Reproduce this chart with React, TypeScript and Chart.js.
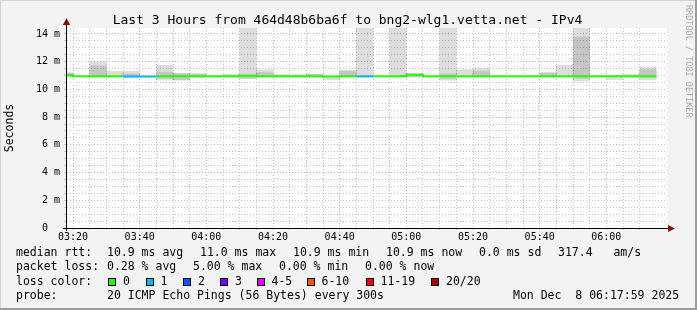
import React, { useEffect, useRef } from "react";
import { Chart, registerables } from "chart.js";

Chart.register(...registerables);

// ---- data ----
const slotStart = [
  "03:15", "03:20", "03:25", "03:30", "03:35", "03:40", "03:45", "03:50", "03:55",
  "04:00", "04:05", "04:10", "04:15", "04:20", "04:25", "04:30", "04:35", "04:40",
  "04:45", "04:50", "04:55", "05:00", "05:05", "05:10", "05:15", "05:20", "05:25",
  "05:30", "05:35", "05:40", "05:45", "05:50", "05:55", "06:00", "06:05", "06:10",
];
const medianMs = [
  11.02, 10.94, 10.95, 10.94, 10.93, 10.93, 10.94, 10.94, 10.95,
  10.94, 10.94, 10.98, 10.95, 10.94, 10.94, 10.94, 10.93, 10.95,
  10.94, 10.94, 10.94, 11.04, 10.94, 10.95, 10.94, 10.94, 10.94,
  10.94, 10.94, 10.95, 10.94, 10.94, 10.94, 10.94, 10.94, 10.94,
];
const lossCount = [
  0, 0, 0, 0, 1, 1, 0, 0, 0,
  0, 0, 0, 0, 0, 0, 0, 0, 0,
  1, 0, 0, 0, 0, 0, 0, 0, 0,
  0, 0, 0, 0, 0, 0, 0, 0, 0,
];
const smokeLow: (number | null)[] = [
  10.92, null, 10.88, 10.88, 10.88, null, 10.68, 10.66, 10.88,
  null, 10.88, 10.78, 10.88, 10.88, 10.88, 10.88, 10.7, 10.88,
  10.88, null, 10.88, 10.88, null, 10.66, 10.88, 10.88, null,
  null, null, 10.88, 10.88, 10.6, null, 10.7, 10.88, 10.7,
];
const smokeHigh: (number | null)[] = [
  11.22, null, 12.0, 11.3, 11.3, null, 11.75, 11.15, 11.12,
  null, 11.1, 14.5, 11.42, 11.08, 11.06, 11.1, 10.96, 11.35,
  14.5, null, 14.5, 11.15, null, 14.5, 11.42, 11.5, null,
  null, null, 11.2, 11.75, 14.4, null, 10.96, 11.1, 11.6,
];
const coreLow: (number | null)[] = [
  10.95, null, 10.9, null, 10.9, null, 10.8, 10.7, 10.9,
  null, null, 10.82, 10.9, null, null, 10.9, null, 10.9,
  null, null, null, 10.9, null, 10.8, null, 10.9, null,
  null, null, 10.9, null, 10.8, null, null, null, 10.85,
];
const coreHigh: (number | null)[] = [
  11.15, null, 11.7, null, 11.12, null, 11.25, 11.15, 11.12,
  null, null, 11.05, 11.22, null, null, 11.1, null, 11.35,
  null, null, null, 11.15, null, 11.12, null, 11.3, null,
  null, null, 11.2, null, 13.8, null, null, null, 11.42,
];
const xTickLabels = ["03:20", "03:40", "04:00", "04:20", "04:40", "05:00", "05:20", "05:40", "06:00"];
const yTickLabels = ["0", "2 m", "4 m", "6 m", "8 m", "10 m", "12 m", "14 m"];
const lossLegend = ["0", "1", "2", "3", "4-5", "6-10", "11-19", "20/20"];
const lossColors = ["#26ff00", "#00b8ff", "#0059ff", "#7e00ff", "#dd00ff", "#ff5500", "#ff0000", "#a10000"];
const titleText = "Last 3 Hours from 464d48b6ba6f to bng2-wlg1.vetta.net - IPv4";
const rttStats = ["median rtt:", "10.9 ms avg", "11.0 ms max", "10.9 ms min", "10.9 ms now", "0.0 ms sd", "317.4   am/s"];
const lossStats = ["packet loss:", "0.28 % avg", "5.00 % max", "0.00 % min", "0.00 % now"];
const probeInfo = ["probe:", "20 ICMP Echo Pings (56 Bytes) every 300s", "Mon Dec  8 06:17:59 2025"];
const watermark = "RRDTOOL / TOBI OETIKER";

// ---- helpers ----
const MONO = '"DejaVu Sans Mono", "Liberation Mono", monospace';
const SLOT = 5;
const X_MIN = -1.8;
const X_MAX = 178.2;
const Y_MAX = 14.43;
const toMin = (t: string) => {
  const [h, m] = t.split(":").map(Number);
  return h * 60 + m - (3 * 60 + 20);
};
const bucket = (n: number) => (n <= 3 ? n : n <= 5 ? 4 : n <= 10 ? 5 : n <= 19 ? 6 : 7);
const MAJOR = "#f2aeae";
const MINOR = "#cacaca";

function Txt(props: { x: number; base: number; size: number; children: any; color?: string }) {
  const { x, base, size, children, color } = props;
  return (
    <div
      style={{
        position: "absolute",
        left: x,
        top: base - 0.846 * size,
        fontSize: size,
        lineHeight: `${size}px`,
        fontFamily: MONO,
        whiteSpace: "pre",
        color: color || "#000",
      }}
    >
      {children}
    </div>
  );
}

export default function App() {
  const ref = useRef<HTMLCanvasElement>(null);

  useEffect(() => {
    const starts = slotStart.map(toMin);
    const outer: any[] = [];
    const core: any[] = [];
    const med: any[] = [];
    const medColors: string[] = [];
    starts.forEach((s, i) => {
      if (smokeLow[i] != null && smokeHigh[i] != null) outer.push({ x: s + SLOT / 2, y: [smokeLow[i], smokeHigh[i]] });
      if (coreLow[i] != null && coreHigh[i] != null) core.push({ x: s + SLOT / 2, y: [coreLow[i], coreHigh[i]] });
      med.push({ x: s, y: medianMs[i] });
      med.push({ x: s + SLOT, y: medianMs[i] });
      medColors.push(lossColors[bucket(lossCount[i])]);
    });
    const xGrid = starts.filter((v) => v >= 0);
    const yGrid: number[] = [];
    for (let k = 0; k <= (yTickLabels.length - 1) * 4; k++) yGrid.push(k * 0.5);

    const framePlugin = {
      id: "frame",
      beforeDraw(chart: any) {
        const { ctx, width, height, chartArea: a } = chart;
        ctx.save();
        ctx.fillStyle = "#f3f3f3";
        ctx.fillRect(0, 0, width, height);
        ctx.fillStyle = "#d4d4d4";
        ctx.fillRect(0, 0, width, 1);
        ctx.fillRect(0, 0, 1, height);
        ctx.fillStyle = "#9c9c9c";
        ctx.fillRect(0, height - 2, width, 2);
        ctx.fillRect(width - 2, 0, 2, height);
        ctx.fillStyle = "#ffffff";
        ctx.fillRect(a.left, a.top, a.right - a.left, a.bottom - a.top);
        ctx.restore();
      },
      afterDraw(chart: any) {
        const { ctx, chartArea: a } = chart;
        ctx.save();
        ctx.fillStyle = "#000";
        ctx.fillRect(a.left - 1, a.top - 4, 1, a.bottom - a.top + 7);
        ctx.fillRect(a.left - 4, a.bottom, a.right - a.left + 6, 1);
        ctx.fillStyle = "#7f1010";
        ctx.beginPath();
        ctx.moveTo(a.left - 0.5, a.top - 10);
        ctx.lineTo(a.left - 4, a.top - 3);
        ctx.lineTo(a.left + 3, a.top - 3);
        ctx.closePath();
        ctx.fill();
        ctx.beginPath();
        ctx.moveTo(a.right + 8, a.bottom + 0.5);
        ctx.lineTo(a.right + 1, a.bottom - 3);
        ctx.lineTo(a.right + 1, a.bottom + 4);
        ctx.closePath();
        ctx.fill();
        ctx.restore();
      },
    };

    const chart = new Chart(ref.current as HTMLCanvasElement, {
      type: "bar",
      data: {
        datasets: [
          {
            type: "line",
            data: med,
            borderWidth: 2,
            pointRadius: 0,
            tension: 0,
            borderCapStyle: "butt",
            borderColor: medColors[0],
            segment: { borderColor: (c: any) => medColors[Math.floor(c.p0DataIndex / 2)] },
            order: 0,
          } as any,
          {
            data: core,
            backgroundColor: "rgba(0,0,0,0.105)",
            borderWidth: 0,
            grouped: false,
            barPercentage: 1,
            categoryPercentage: 1,
            order: 1,
          } as any,
          {
            data: outer,
            backgroundColor: "rgba(0,0,0,0.135)",
            borderWidth: 0,
            grouped: false,
            barPercentage: 1,
            categoryPercentage: 1,
            order: 2,
          } as any,
        ],
      },
      options: {
        responsive: false,
        animation: false,
        devicePixelRatio: 1,
        events: [],
        layout: { padding: { left: 0, top: 28, right: 30, bottom: 0 } },
        plugins: { legend: { display: false }, title: { display: false }, tooltip: { enabled: false } },
        scales: {
          x: {
            type: "linear",
            offset: false,
            min: X_MIN,
            max: X_MAX,
            afterBuildTicks: (s: any) => {
              s.ticks = xGrid.map((v) => ({ value: v }));
            },
            afterFit: (s: any) => {
              s.height = 82;
            },
            ticks: {
              autoSkip: false,
              maxRotation: 0,
              minRotation: 0,
              padding: 1,
              color: "#000",
              font: { family: MONO, size: 10 },
              callback: (v: any) => (v % 20 === 0 ? xTickLabels[v / 20] ?? "" : ""),
            },
            grid: {
              offset: false,
              color: (c: any) => (c.tick && c.tick.value % 20 === 0 ? MAJOR : MINOR),
              lineWidth: 1,
              drawTicks: true,
              tickLength: 2,
            },
            border: { display: false, dash: [1, 2] },
          },
          y: {
            type: "linear",
            min: 0,
            max: Y_MAX,
            afterBuildTicks: (s: any) => {
              s.ticks = yGrid.map((v) => ({ value: v }));
            },
            afterFit: (s: any) => {
              s.width = 67;
            },
            ticks: {
              autoSkip: false,
              padding: 4,
              color: "#000",
              font: { family: MONO, size: 10 },
              callback: (v: any) => {
                if (v % 2 !== 0) return "";
                const l = yTickLabels[v / 2] ?? "";
                return l.includes(" ") ? l : l + "  ";
              },
            },
            grid: {
              color: (c: any) => (c.tick && c.tick.value % 2 === 0 ? MAJOR : MINOR),
              lineWidth: 1,
              drawTicks: true,
              tickLength: 3,
            },
            border: { display: false, dash: [1, 2] },
            title: {
              display: true,
              text: "Seconds",
              color: "#000",
              font: { family: MONO, size: 11.5 },
              padding: { top: 3, bottom: 0 },
            },
          },
        },
      } as any,
      plugins: [framePlugin],
    });
    return () => chart.destroy();
  }, []);

  const r1 = 257, r2 = 271.2, r3 = 285.4, r4 = 299.6;
  const fs = 11.5;
  const rttX = [16, 107, 200, 293, 386, 479, 558];
  const lossX = [16, 107, 193, 279, 365];
  const boxX = [108, 145.5, 182.5, 219.5, 256.5, 306.5, 365.5, 430.5];
  const lblX = [123, 160.5, 198, 235, 271.5, 321.5, 380.5, 446];

  return (
    <div style={{ position: "fixed", left: 0, top: 0, width: 697, height: 310, overflow: "hidden", background: "#f3f3f3" }}>
      <canvas ref={ref} width={697} height={310} style={{ position: "absolute", left: 0, top: 0, width: 697, height: 310 }} />
      <div
        style={{
          position: "absolute",
          left: 0,
          width: 695,
          top: 23.5 - 0.846 * 13,
          fontSize: 13,
          lineHeight: "13px",
          fontFamily: MONO,
          whiteSpace: "pre",
          textAlign: "center",
          color: "#000",
        }}
      >
        {titleText}
      </div>
      {rttStats.map((t, i) => (
        <Txt key={"r" + i} x={rttX[i]} base={r1} size={fs}>{t}</Txt>
      ))}
      {lossStats.map((t, i) => (
        <Txt key={"l" + i} x={lossX[i]} base={r2} size={fs}>{t}</Txt>
      ))}
      <Txt x={16} base={r3} size={fs}>loss color:</Txt>
      {lossLegend.map((t, i) => (
        <React.Fragment key={"c" + i}>
          <div
            style={{
              position: "absolute",
              left: boxX[i],
              top: r3 - 7.5,
              width: 8,
              height: 8,
              boxSizing: "border-box",
              border: "1px solid #000",
              background: lossColors[i],
            }}
          />
          <Txt x={lblX[i]} base={r3} size={fs}>{t}</Txt>
        </React.Fragment>
      ))}
      <Txt x={16} base={r4} size={fs}>{probeInfo[0]}</Txt>
      <Txt x={107} base={r4} size={fs}>{probeInfo[1]}</Txt>
      <Txt x={513} base={r4} size={fs}>{probeInfo[2]}</Txt>
      <div
        style={{
          position: "absolute",
          left: 693,
          top: 5,
          fontSize: 8.5,
          lineHeight: "8.5px",
          fontFamily: MONO,
          whiteSpace: "pre",
          color: "#aaaaaa",
          transform: "rotate(90deg)",
          transformOrigin: "0 0",
        }}
      >
        {watermark}
      </div>
    </div>
  );
}
